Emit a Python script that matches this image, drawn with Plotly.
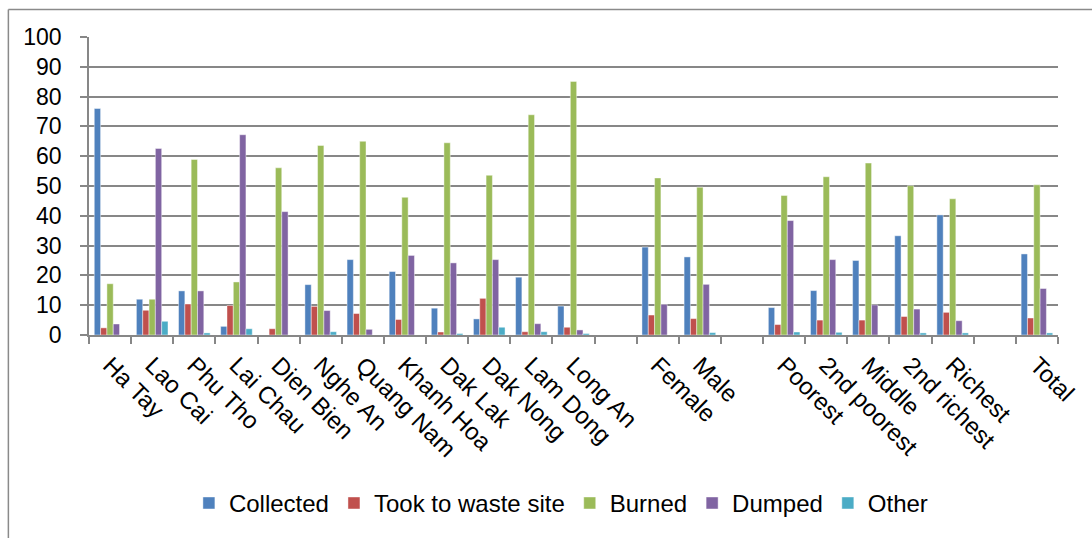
import plotly.graph_objects as go

# Household waste disposal by province, sex and wealth group (percent)
categories = [
    "Ha Tay", "Lao Cai", "Phu Tho", "Lai Chau", "Dien Bien", "Nghe An",
    "Quang Nam", "Khanh Hoa", "Dak Lak", "Dak Nong", "Lam Dong", "Long An",
    " ", "Female", "Male", "  ", "Poorest", "2nd poorest", "Middle",
    "2nd richest", "Richest", "   ", "Total",
]

collected = [76.0, 12.0, 14.8, 2.9, 0.0, 16.9, 25.3, 21.3, 9.0, 5.4, 19.4, 9.7,
             None, 29.5, 26.2, None, 9.2, 14.9, 25.0, 33.3, 40.3, None, 27.2]
took_to_site = [2.4, 8.3, 10.4, 9.9, 2.1, 9.6, 7.2, 5.2, 1.0, 12.3, 1.1, 2.6,
                None, 6.7, 5.5, None, 3.5, 5.0, 5.0, 6.2, 7.6, None, 5.7]
burned = [17.2, 12.0, 58.9, 17.8, 56.1, 63.6, 65.0, 46.2, 64.5, 53.6, 73.9, 85.1,
          None, 52.7, 49.6, None, 46.8, 53.1, 57.7, 50.1, 45.7, None, 50.4]
dumped = [3.7, 62.6, 14.8, 67.2, 41.4, 8.2, 1.9, 26.7, 24.2, 25.3, 3.8, 1.7,
          None, 10.3, 17.0, None, 38.4, 25.3, 10.1, 8.7, 4.8, None, 15.6]
other = [0.0, 4.6, 0.7, 2.1, 0.0, 1.1, 0.0, 0.0, 0.5, 2.6, 1.1, 0.5,
         None, 0.0, 0.8, None, 1.0, 0.9, 0.0, 0.7, 0.7, None, 0.7]

series = [
    ("Collected", collected, "#4F81BD"),
    ("Took to waste site", took_to_site, "#C0504D"),
    ("Burned", burned, "#9BBB59"),
    ("Dumped", dumped, "#8064A2"),
    ("Other", other, "#4BACC6"),
]

y_ticks = list(range(0, 101, 10))

FONT = "Liberation Sans, Arial, sans-serif"
GRID = "#878787"

fig = go.Figure()
for name, values, color in series:
    fig.add_trace(go.Bar(
        x=categories, y=values, name=name,
        marker=dict(color=color, line=dict(color="rgba(255,255,255,0.55)", width=0.8)),
    ))

fig.update_layout(
    width=1092, height=538,
    margin=dict(l=89, r=30, t=37, b=203),
    paper_bgcolor="white", plot_bgcolor="white",
    barmode="group", bargap=0.25, bargroupgap=0,
    font=dict(family=FONT, size=23, color="black"),
    showlegend=True,
    legend=dict(
        orientation="h", x=0.487, xanchor="center", y=-0.565, yanchor="middle",
        font=dict(family=FONT, size=24, color="black"),
        itemwidth=30, tracegroupgap=0,
    ),
    xaxis=dict(
        type="category", categoryorder="array", categoryarray=categories,
        tickangle=45, tickson="boundaries", ticks="outside", ticklen=7,
        tickcolor=GRID, tickwidth=1.5,
        showline=True, linecolor=GRID, linewidth=1.5,
        showgrid=False, ticklabelstandoff=5,
        tickfont=dict(family=FONT, size=24, color="black"),
    ),
    yaxis=dict(
        range=[0, 100], tickvals=y_ticks, ticks="outside", ticklen=7,
        tickcolor=GRID, tickwidth=1.5,
        showline=True, linecolor=GRID, linewidth=1.5,
        showgrid=True, gridcolor=GRID, gridwidth=1.5, zeroline=False,
        ticklabelstandoff=14,
        tickfont=dict(family=FONT, size=23, color="black"),
    ),
    shapes=[
        # chart frame: left and top edges
        dict(type="line", xref="paper", yref="paper",
             x0=-0.0832, x1=-0.0832, y0=1.0924, y1=-0.75,
             line=dict(color="#8a8a8a", width=1.5)),
        dict(type="line", xref="paper", yref="paper",
             x0=-0.0832, x1=1.1, y0=1.0924, y1=1.0924,
             line=dict(color="#8a8a8a", width=1.5)),
    ],
)

fig.write_html("out.html")
